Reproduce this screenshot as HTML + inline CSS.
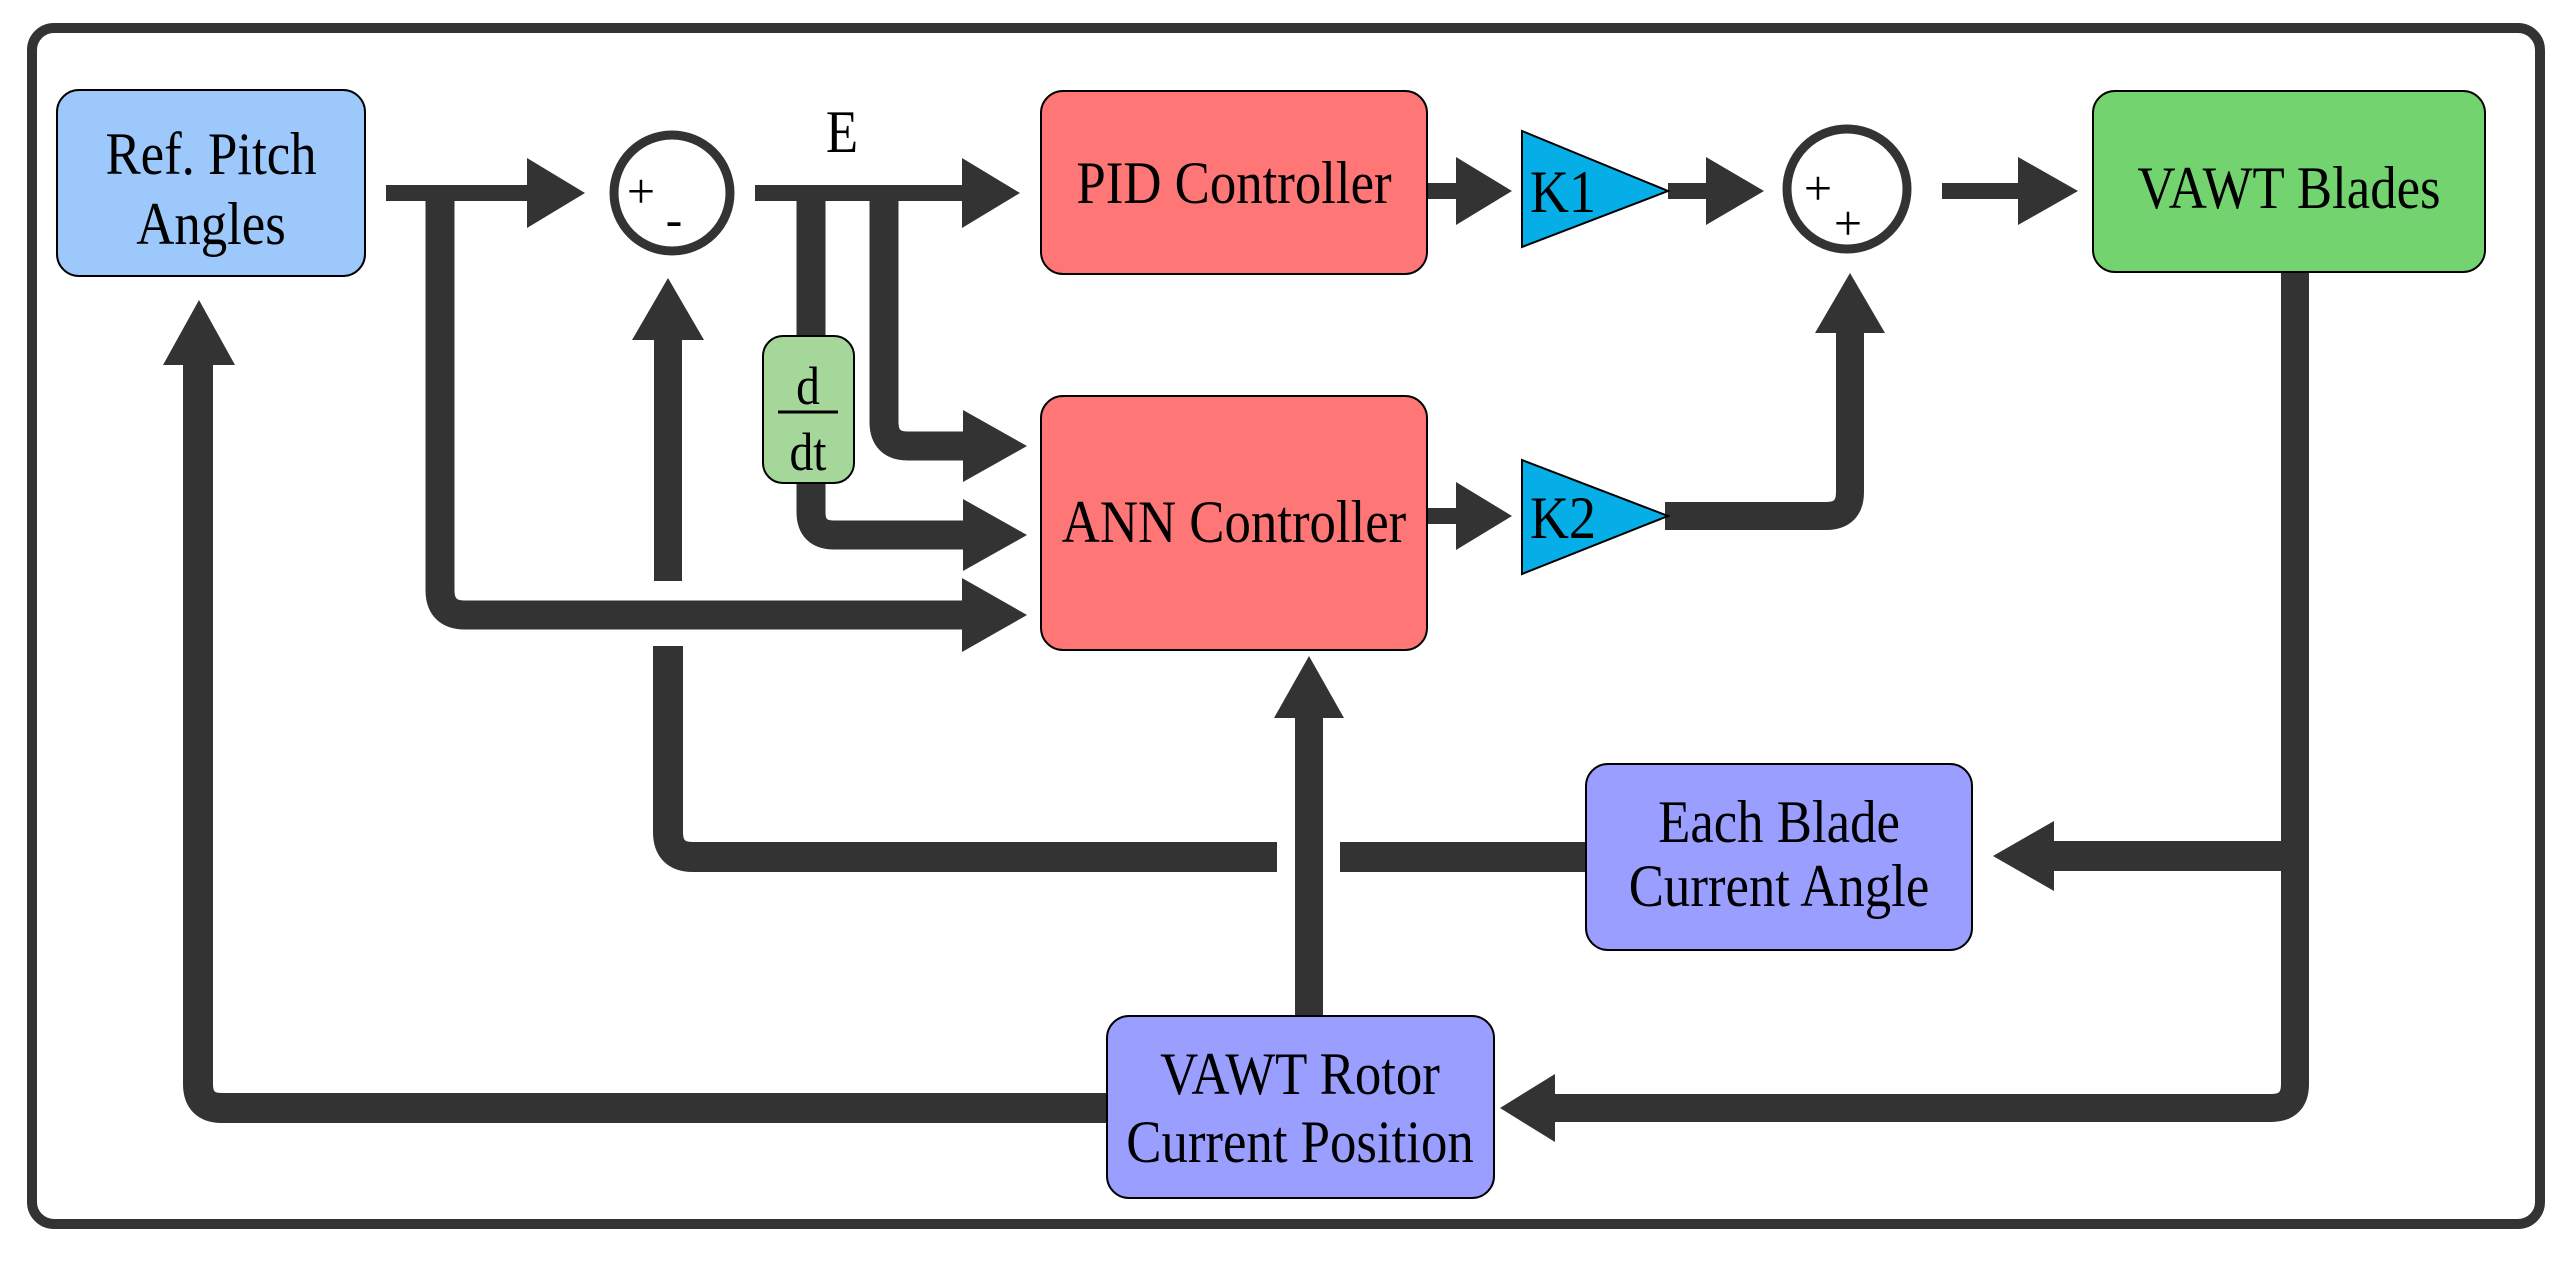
<!DOCTYPE html>
<html><head><meta charset="utf-8"><style>
html,body{margin:0;padding:0;background:#fff;}
svg{display:block;}
text{font-family:"Liberation Serif",serif;fill:#000;}
</style></head><body>
<svg width="2568" height="1262" viewBox="0 0 2568 1262" xmlns="http://www.w3.org/2000/svg">
<rect x="32" y="28" width="2508" height="1196" rx="22" fill="#fff" stroke="#333" stroke-width="10"/>
<g fill="none" stroke="#333" stroke-linejoin="round">
  <line x1="386" y1="193" x2="530" y2="193" stroke-width="16"/>
  <line x1="755" y1="193" x2="965" y2="193" stroke-width="16"/>
  <line x1="1428" y1="191" x2="1460" y2="191" stroke-width="16"/>
  <line x1="1668" y1="191" x2="1710" y2="191" stroke-width="16"/>
  <line x1="1942" y1="191" x2="2020" y2="191" stroke-width="16"/>
  <line x1="1428" y1="516" x2="1460" y2="516" stroke-width="16"/>
  <path d="M440 193 V590 Q440 615 465 615 H966" stroke-width="29"/>
  <path d="M811 193 V336" stroke-width="29"/>
  <path d="M811 483 V512 Q811 535 834 535 H966" stroke-width="29"/>
  <path d="M884 193 V422 Q884 446 908 446 H966" stroke-width="29"/>
  <path d="M1665 516 H1826 Q1850 516 1850 492 V330" stroke-width="28"/>
  <path d="M668 340 V581" stroke-width="28"/>
  <path d="M668 646 V832 Q668 857 693 857 H1277" stroke-width="30"/>
  <path d="M1340 857 H1586" stroke-width="30"/>
  <path d="M1309 1016 V715" stroke-width="28"/>
  <path d="M2295 272 V1084 Q2295 1108 2271 1108 H1552" stroke-width="28"/>
  <path d="M2295 856 H2052" stroke-width="30"/>
  <path d="M1107 1108 H222 Q198 1108 198 1084 V362" stroke-width="30"/>
</g>
<g fill="#333">
  <polygon points="527,158 585,193 527,228"/>
  <polygon points="962,158 1020,193 962,228"/>
  <polygon points="1456,157 1512,191 1456,225"/>
  <polygon points="1706,157 1764,191 1706,225"/>
  <polygon points="2018,157 2078,191 2018,225"/>
  <polygon points="1456,482 1512,516 1456,550"/>
  <polygon points="963,410 1027,446 963,482"/>
  <polygon points="963,499 1027,535 963,571"/>
  <polygon points="962,578 1027,615 962,652"/>
  <polygon points="1815,333 1850,273 1885,333"/>
  <polygon points="632,340 668,278 704,340"/>
  <polygon points="1274,718 1309,656 1344,718"/>
  <polygon points="163,365 199,300 235,365"/>
  <polygon points="2054,821 1993,856 2054,891"/>
  <polygon points="1555,1074 1500,1108 1555,1142"/>
</g>
<rect x="57" y="90" width="308" height="186" rx="22" fill="#9cc8fb" stroke="#000" stroke-width="2"/>
<rect x="1041" y="91" width="386" height="183" rx="22" fill="#fe7676" stroke="#000" stroke-width="2"/>
<rect x="1041" y="396" width="386" height="254" rx="22" fill="#fe7676" stroke="#000" stroke-width="2"/>
<rect x="2093" y="91" width="392" height="181" rx="22" fill="#73d36e" stroke="#000" stroke-width="2"/>
<rect x="1586" y="764" width="386" height="186" rx="22" fill="#9a9fff" stroke="#000" stroke-width="2"/>
<rect x="1107" y="1016" width="387" height="182" rx="22" fill="#9a9fff" stroke="#000" stroke-width="2"/>
<rect x="763" y="336" width="91" height="147" rx="20" fill="#a5d69a" stroke="#000" stroke-width="2"/>
<polygon points="1522,131 1668,191 1522,247" fill="#06aee8" stroke="#000" stroke-width="2"/>
<polygon points="1522,460 1668,516 1522,574" fill="#06aee8" stroke="#000" stroke-width="2"/>
<circle cx="672" cy="193" r="58" fill="#fff" stroke="#333" stroke-width="9"/>
<circle cx="1847" cy="189" r="60" fill="#fff" stroke="#333" stroke-width="9"/>
<g font-size="60" text-anchor="middle">
  <text transform="translate(211,174) scale(0.88,1)">Ref. Pitch</text>
  <text transform="translate(211,244) scale(0.88,1)">Angles</text>
  <text transform="translate(1234,203) scale(0.88,1)">PID Controller</text>
  <text transform="translate(1234,542) scale(0.88,1)">ANN Controller</text>
  <text transform="translate(2289,208) scale(0.88,1)">VAWT Blades</text>
  <text transform="translate(1779,842) scale(0.88,1)">Each Blade</text>
  <text transform="translate(1779,906) scale(0.88,1)">Current Angle</text>
  <text transform="translate(1300,1094) scale(0.88,1)">VAWT Rotor</text>
  <text transform="translate(1300,1162) scale(0.88,1)">Current Position</text>
  <text transform="translate(842,152) scale(0.88,1)">E</text>
  <text transform="translate(808,404) scale(0.88,1)" font-size="54">d</text>
  <text transform="translate(808,470) scale(0.88,1)" font-size="54">dt</text>
</g>
<line x1="778" y1="412" x2="838" y2="412" stroke="#000" stroke-width="3"/>
<g font-size="60">
  <text transform="translate(1530,212) scale(0.9,1)">K1</text>
  <text transform="translate(1530,538) scale(0.9,1)">K2</text>
</g>
<g font-size="50" text-anchor="middle">
  <text x="641" y="208">+</text>
  <text x="674" y="236">-</text>
  <text x="1818" y="205">+</text>
  <text x="1848" y="240">+</text>
</g>
</svg>
</body></html>
